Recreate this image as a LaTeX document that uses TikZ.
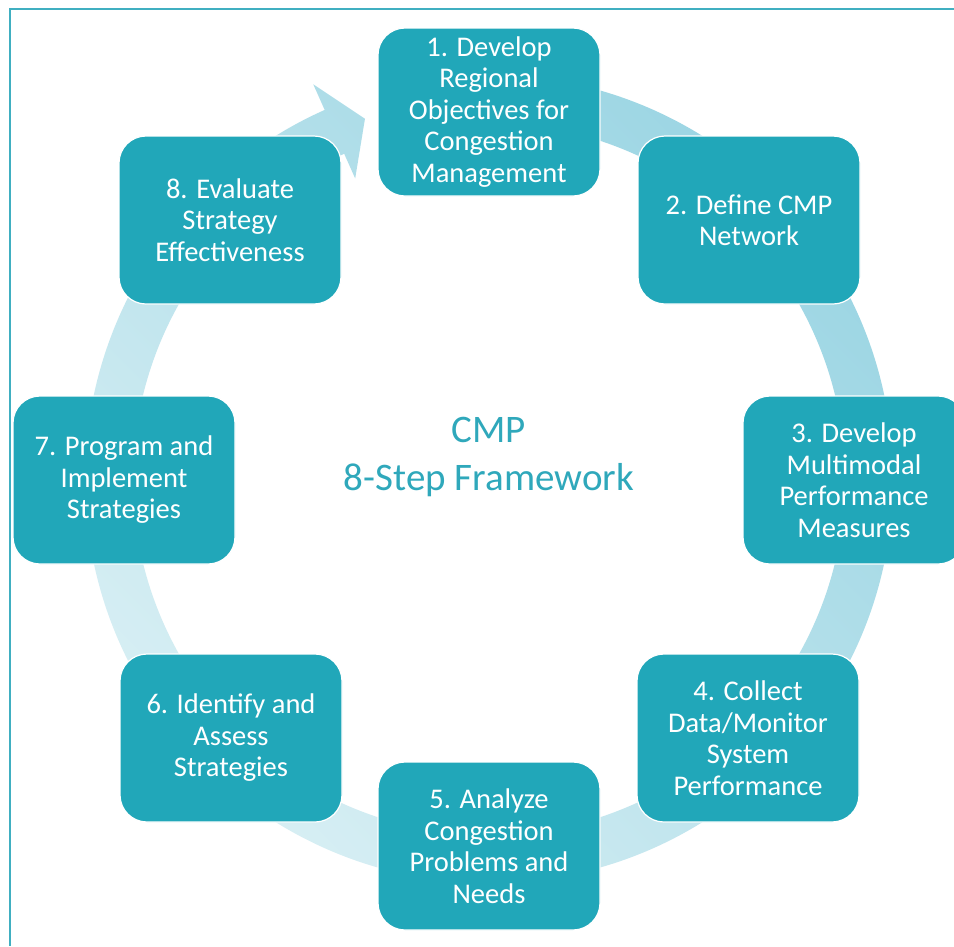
\documentclass[tikz,border=0pt]{standalone}
\usepackage{fontspec}
\setmainfont{Carlito}
\definecolor{boxteal}{HTML}{21A7B9}
\definecolor{frameteal}{HTML}{40AFC1}
\definecolor{titleteal}{HTML}{2FA8BB}
\definecolor{ringdark}{HTML}{9BD5E3}
\definecolor{ringlight}{HTML}{D8EFF4}
\begin{document}
\begin{tikzpicture}[x=1pt, y=-1pt,
  stepbox/.style={fill=boxteal, draw=white, line width=1.2pt,
    rounded corners=27pt, minimum width=222pt, minimum height=168pt,
    align=center, text=white, inner sep=0pt,
    font=\fontsize{28.5}{31.5}\selectfont},
  titletext/.style={align=center, text=titleteal,
    font=\fontsize{39}{48}\selectfont},
  ringshade/.style={top color=ringdark, bottom color=ringlight,
    shading angle=-45}]
\useasboundingbox (0,0) rectangle (954,946);
\fill[white] (0,0) rectangle (954,946);

% outer frame (only the top and left edges fall on the page)
\draw[frameteal, line width=2.2pt] (954,9) -- (10,9) -- (10,946);

% circular arrow running clockwise around the cycle
\begin{scope}[shift={(489,479)}, x=1pt, y=1pt]
  \shade[ringshade] (95:404) arc[start angle=95, end angle=-246, radius=404]
    -- (-246:432) -- (-251:381) -- (-246:329) -- (-246:356)
    arc[start angle=-246, end angle=95, radius=356] -- cycle;
\end{scope}

% the eight steps
\node[stepbox] (s1) at (489,112) {1. Develop\\Regional\\Objectives for\\Congestion\\Management};
\node[stepbox] (s2) at (749,220) {2. Define CMP\\Network};
\node[stepbox] (s3) at (854,480) {3. Develop\\Multimodal\\Performance\\Measures};
\node[stepbox] (s4) at (748,738) {4. Collect\\Data/Monitor\\System\\Performance};
\node[stepbox] (s5) at (489,846) {5. Analyze\\Congestion\\Problems and\\Needs};
\node[stepbox] (s6) at (231,738) {6. Identify and\\Assess\\Strategies};
\node[stepbox] (s7) at (124,480) {7. Program and\\Implement\\Strategies};
\node[stepbox] (s8) at (230,220) {8. Evaluate\\Strategy\\Effectiveness};

% title in the middle of the cycle
\node[titletext] (title) at (489,457) {CMP\\8-Step Framework};
\end{tikzpicture}
\end{document}
